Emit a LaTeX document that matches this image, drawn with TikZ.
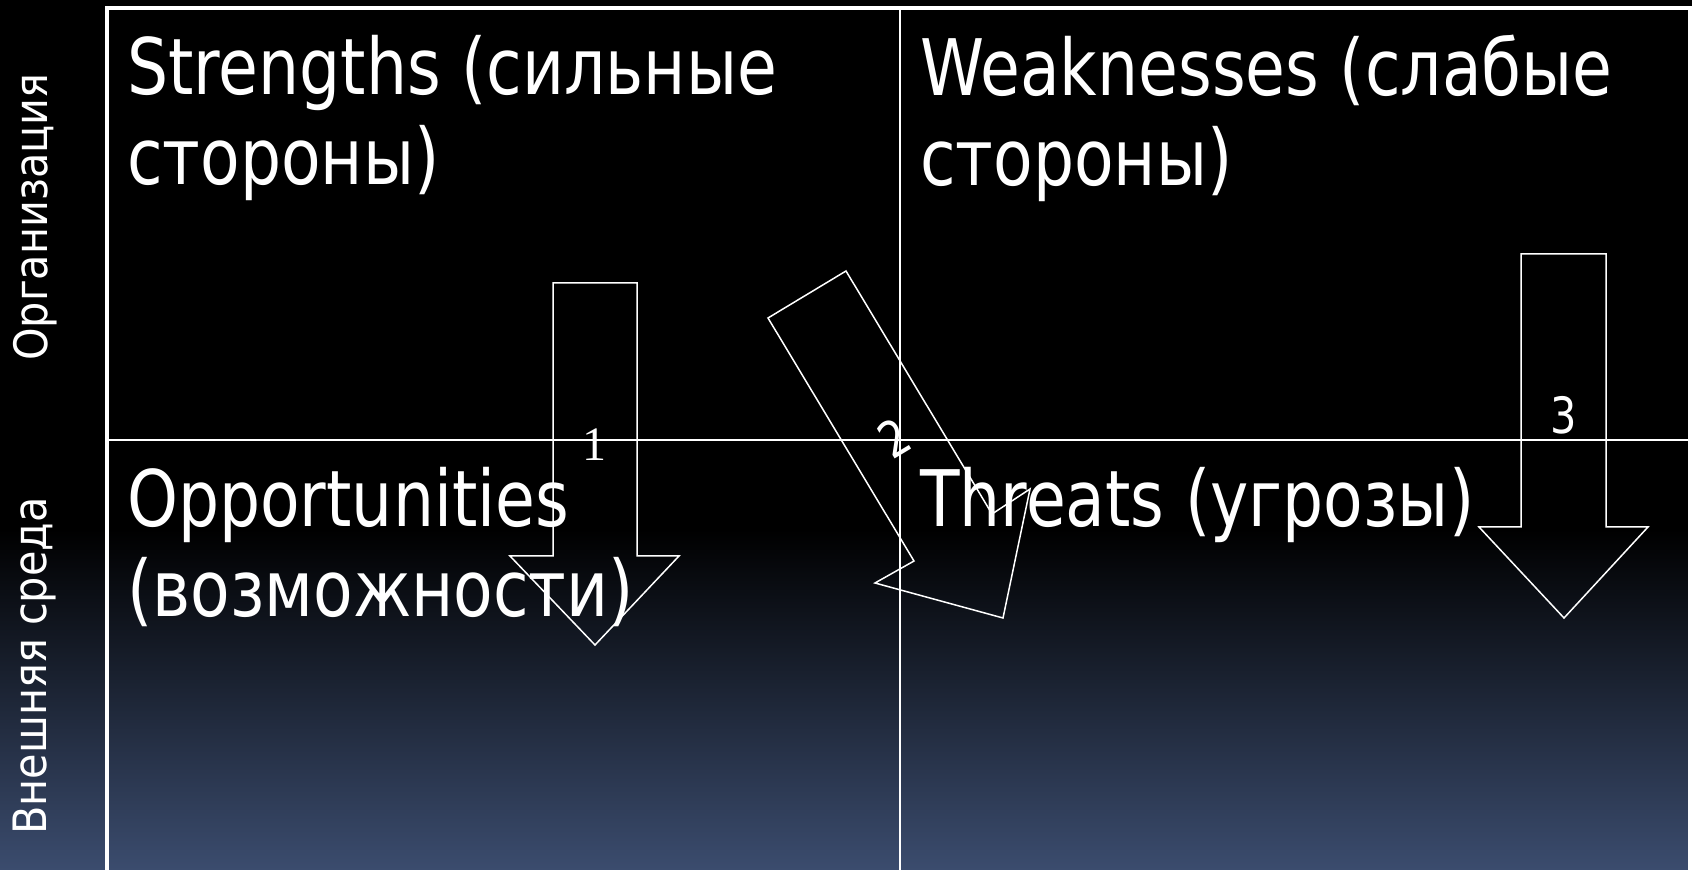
\documentclass[tikz,border=0pt]{standalone}
\usepackage{fontspec}
\setmainfont{DejaVu Sans}
\newfontfamily\swotFont{DejaVu Sans}[FakeStretch=0.83]
\newfontfamily\sideFont{DejaVu Sans}[FakeStretch=0.9]
\newfontfamily\digitFont{Liberation Serif}
\usetikzlibrary{positioning}
\definecolor{slideNavy}{HTML}{3B4C6E}

\begin{document}
\begin{tikzpicture}[x=1pt, y=1pt,
    cell/.style={anchor=north west, inner sep=0pt, align=left, text=white,
                 font=\swotFont\fontsize{78}{90}\selectfont},
    side/.style={rotate=90, inner sep=0pt, text=white,
                 font=\sideFont\fontsize{46}{50}\selectfont},
    arrowline/.style={draw=white, line width=1.5pt, line join=miter},
    digit/.style={inner sep=0pt, text=white, font=\swotFont\fontsize{50}{50}\selectfont}]
  \useasboundingbox (0,0) rectangle (1692,870);
  \clip (0,0) rectangle (1692,870);
  \fill[black] (0,340) rectangle (1692,870);
  \shade[top color=black, bottom color=slideNavy] (0,0) rectangle (1692,341);

  \draw[white, line width=4pt] (107,-10) -- (107,862) -- (1690,862) -- (1690,-10);
  \draw[white, line width=2pt] (900,862) -- (900,-10);
  \draw[white, line width=2pt] (107,430) -- (1690,430);

  \node[side] (org) at (35,653) {Организация};
  \node[side] (env) at (35,204) {Внешняя среда};

  \node[cell] (str) at (127,835) {Strengths (сильные\\стороны)};
  \node[cell] (weak) at (920,835) {Weaknesses (слабые\\стороны)};
  \node[cell] (opp) at (127,403) {Opportunities\\(возможности)};
  \node[cell] (thr) at (920,403) {Threats (угрозы)};

  \draw[arrowline] (553,587) -- (637,587) -- (637,314) -- (679,314)
    -- (595,225) -- (510,314) -- (553,314) -- cycle;
  \node[digit, font=\digitFont\fontsize{48}{48}\selectfont] (one) at (594,425) {1};
  \draw[arrowline] (768,552) -- (846,599) -- (992,356) -- (1030,381)
    -- (1003,252) -- (875,287) -- (914,309) -- cycle;
  \node[digit, rotate=31] (two) at (894,432) {2};
  \draw[arrowline] (1521,616) -- (1606,616) -- (1606,343) -- (1648,343)
    -- (1564,252) -- (1479,343) -- (1521,343) -- cycle;
  \node[digit] (three) at (1564,455) {3};
\end{tikzpicture}
\end{document}
